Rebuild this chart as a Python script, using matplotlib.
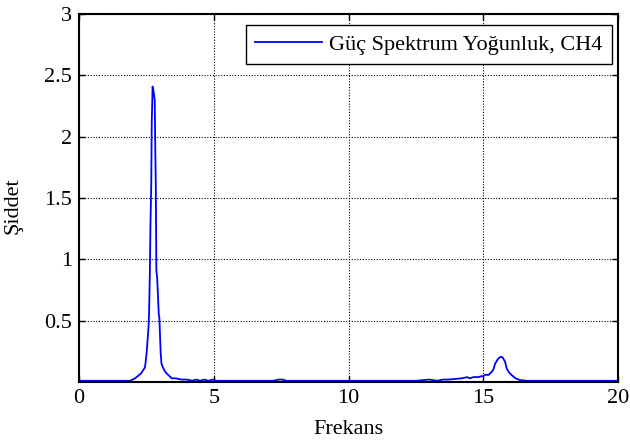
import matplotlib
matplotlib.use("Agg")
import matplotlib.pyplot as plt

# values (frequency vs. power spectral density)
freq = [0.0, 1.0, 1.9, 2.08, 2.3, 2.45, 2.51, 2.58, 2.60, 2.63, 2.65, 2.68, 2.70, 2.72, 2.73,
        2.76, 2.78, 2.81, 2.83, 2.85, 2.87, 2.90, 2.96, 2.98, 3.03, 3.06, 3.1, 3.18, 3.25,
        3.35, 3.44, 3.6, 3.8, 4.0, 4.2, 4.35, 4.5, 4.65, 4.8, 4.95, 5.1, 6.0, 7.2, 7.4,
        7.55, 7.7, 9.0, 12.5, 13.0, 13.3, 13.5, 13.7, 14.2, 14.4, 14.5, 14.63, 14.8, 15.0,
        15.1, 15.19, 15.3, 15.37, 15.44, 15.55, 15.65, 15.72, 15.81, 15.87, 15.95, 16.05,
        16.2, 16.36, 16.6, 18.0, 20.0]
power = [0.01, 0.01, 0.01, 0.03, 0.07, 0.12, 0.24, 0.45, 0.56, 0.9, 1.27, 1.6, 2.13, 2.3,
         2.41, 2.38, 2.35, 2.30, 1.9, 1.59, 0.91, 0.85, 0.55, 0.53, 0.24, 0.15, 0.125, 0.09,
         0.07, 0.05, 0.03, 0.03, 0.02, 0.02, 0.01, 0.02, 0.01, 0.02, 0.01, 0.02, 0.01, 0.01,
         0.01, 0.02, 0.02, 0.01, 0.01, 0.01, 0.02, 0.01, 0.02, 0.02, 0.03, 0.04, 0.03, 0.04,
         0.04, 0.05, 0.06, 0.057, 0.08, 0.1, 0.15, 0.19, 0.206, 0.2, 0.165, 0.11, 0.08,
         0.057, 0.03, 0.016, 0.01, 0.01, 0.01]

plt.rcParams["font.family"] = ["Liberation Serif", "DejaVu Serif"]
FS = 16

fig = plt.figure(figsize=(6.3, 4.42), dpi=100)
ax = fig.add_axes([0.1254, 0.1357, 0.8556, 0.8323])

ax.plot(freq, power, color="#0000ff", lw=1.3, label="Güç Spektrum Yoğunluk, CH4")

ax.set_xlim(0, 20)
ax.set_ylim(0, 3)
ax.set_xticks([0, 5, 10, 15, 20])
ax.set_yticks([0.5, 1, 1.5, 2, 2.5, 3])
ax.set_yticklabels(["0.5", "1", "1.5", "2", "2.5", "3"])
ax.grid(True, color="black", ls=(0, (1, 1.5)), lw=0.8)
ax.tick_params(direction="in", top=True, right=True, labelsize=FS, length=4, width=1)
ax.tick_params(axis="x", pad=5)
ax.tick_params(axis="y", pad=5)
for s in ax.spines.values():
    s.set_linewidth(1.5)

ax.set_xlabel("Frekans", fontsize=FS, labelpad=9)
ax.set_ylabel("Şiddet", fontsize=FS)
ax.yaxis.set_label_coords(-0.104, 0.48)

leg = ax.legend(loc="upper right", fontsize=FS, fancybox=False, framealpha=1,
                edgecolor="black", borderpad=0.42, handlelength=3.0, handletextpad=0.35,
                borderaxespad=0, bbox_to_anchor=(0.989, 0.970))
leg.get_frame().set_linewidth(1.0)

fig.savefig("out.png", dpi=100)
